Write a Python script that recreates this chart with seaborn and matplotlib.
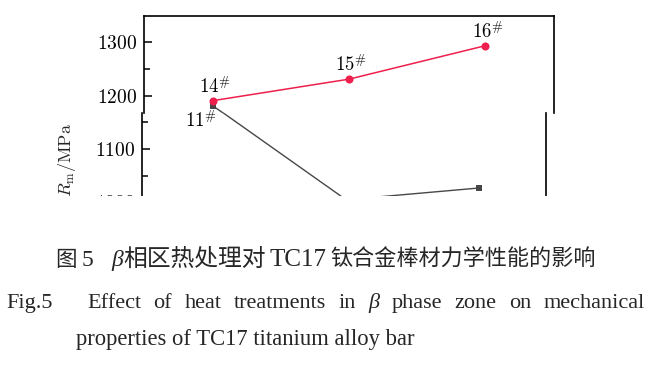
import numpy as np
import pandas as pd
import matplotlib
matplotlib.use("Agg")
import matplotlib.pyplot as plt
from matplotlib.ticker import MultipleLocator, AutoMinorLocator, FuncFormatter
from matplotlib.patches import Rectangle
import seaborn as sns

# ---------------- data ----------------
red_labels = ["14", "15", "16"]
red_values = [1190.6, 1231.0, 1293.8]
black_labels = ["11", "12", "13"]
black_values = [1181.3, 1005.0, 1027.0]

caption_cn_fig = ["图", "5"]
caption_cn_parts = ["相区热处理对", "TC17", "钛合金棒材力学性能的影响"]
caption_en_head = "Fig.5"
caption_en_words = ["Effect", "of", "heat", "treatments", "in", "β",
                    "phase", "zone", "on", "mechanical"]
caption_en_line2 = "properties of TC17 titanium alloy bar"
ylabel = r"$R_{\mathrm{m}}/\mathrm{MPa}$"

# ---------------- style ----------------
sns.set_theme(style="white")
plt.rcParams["font.family"] = ["Liberation Serif", "Noto Sans CJK SC", "DejaVu Sans"]
plt.rcParams["mathtext.fontset"] = "cm"

W, H = 657, 365
fig = plt.figure(figsize=(W / 100, H / 100), dpi=100)
renderer = fig.canvas.get_renderer()

def fx(px):
    return px / W

def fy(py):
    return 1 - py / H

red_color = "#ee1f4d"
black_color = "#474747"

xs = np.arange(1, len(red_values) + 1)
df_red = pd.DataFrame({"x": xs, "y": red_values, "lab": red_labels})
df_black = pd.DataFrame({"x": xs, "y": black_values, "lab": black_labels})

# pixel geometry
y_split = 113.2
ax_u = fig.add_axes([fx(144.3), fy(y_split), fx(553.7) - fx(144.3), fy(15.7) - fy(y_split)])
ax_l = fig.add_axes([fx(142.3), fy(215), fx(546.3) - fx(142.3), fy(y_split) - fy(215)])

px_per_unit = 53.35 / 100.0  # pixels per MPa
def val_at(py):
    return 1200 - (py - 95.7) / px_per_unit

ax_u.set_ylim(val_at(y_split), val_at(15.7))
ax_l.set_ylim(val_at(215), val_at(y_split))
ax_u.set_xlim(0.5, 3.5)
ax_l.set_xlim(0.468, 3.506)

for ax in (ax_u, ax_l):
    sns.lineplot(data=df_black, x="x", y="y", ax=ax, color=black_color,
                 marker="s", markersize=4.6, markeredgewidth=0, linewidth=1.0,
                 sort=False, zorder=2)
    sns.lineplot(data=df_red, x="x", y="y", ax=ax, color=red_color,
                 marker="o", markersize=5.8, markeredgewidth=0, linewidth=1.1,
                 sort=False, zorder=3)
    ax.set_xlabel("")
    ax.set_ylabel("")
    ax.set_xticks([])
    ax.yaxis.set_major_locator(MultipleLocator(100))
    ax.yaxis.set_minor_locator(AutoMinorLocator(2))
    ax.yaxis.set_major_formatter(FuncFormatter(lambda v, p: f"${v:.0f}$"))
    ax.tick_params(axis="y", which="major", direction="in", length=6, width=1.1,
                   pad=5.5, labelsize=14, left=True, right=False, colors="black")
    ax.tick_params(axis="y", which="minor", direction="in", length=4, width=1.1,
                   left=True, right=False, colors="black")
    for s in ax.spines.values():
        s.set_color("black")
        s.set_linewidth(1.2)
    ax.patch.set_alpha(0)

ax_u.spines["bottom"].set_visible(False)
ax_l.spines["top"].set_visible(False)
ax_l.spines["bottom"].set_visible(False)

# point labels
for x, y, lab in zip(df_red["x"], df_red["y"], df_red["lab"]):
    ax_u.annotate(rf"${lab}^{{\#}}$", (x, y), xytext=(2, 14.5), textcoords="offset pixels",
                  ha="center", va="center", fontsize=13.5, color="black")
for i, (x, y, lab) in enumerate(zip(df_black["x"], df_black["y"], df_black["lab"])):
    dy = -15.3 if i == 0 else -24
    ax_l.annotate(rf"${lab}^{{\#}}$", (x, y), xytext=(-12, dy), textcoords="offset pixels",
                  ha="center", va="center", fontsize=13.5, color="black",
                  annotation_clip=False)

fig.text(fx(66.5), fy(160), ylabel, rotation=90, ha="center", va="center", fontsize=13)

# white mask that cuts the chart off at the bottom
fig.add_artist(Rectangle((0, fy(236)), 1, fy(196.3) - fy(236), transform=fig.transFigure,
                         facecolor="white", edgecolor="none", zorder=20))

# ---------------- caption ----------------
def fitted_text(x0, x1, base, s, size, **kw):
    """Left-aligned text whose width is fitted to span x0..x1 pixels."""
    t = fig.text(fx(x0), fy(base), s, ha="left", va="baseline", fontsize=size, zorder=30, **kw)
    w = t.get_window_extent(renderer).width
    t.set_fontsize(size * (x1 - x0) / w)
    return t

cn_fam = ["Liberation Serif", "Noto Sans CJK SC"]
cn_size = 17
cn_base = 266
fig.text(fx(55), fy(cn_base), caption_cn_fig[0], ha="left", va="baseline", fontsize=15.5,
         family=cn_fam, zorder=30)
fig.text(fx(81.5), fy(cn_base), caption_cn_fig[1], ha="left", va="baseline", fontsize=cn_size,
         family="Liberation Serif", zorder=30)
fig.text(fx(111.5), fy(cn_base), "β", ha="left", va="baseline", fontsize=cn_size,
         family="Liberation Serif", style="italic", zorder=30)
fitted_text(123, 266, cn_base, caption_cn_parts[0], cn_size, family=cn_fam)
fitted_text(270, 327, cn_base, caption_cn_parts[1], cn_size, family="Liberation Serif")
fitted_text(330, 595, cn_base, caption_cn_parts[2], cn_size, family=cn_fam)

# justified English line
en_size = 16
en_base = 307.7
fig.text(fx(6.5), fy(en_base), caption_en_head, ha="left", va="baseline", fontsize=en_size,
         family="Liberation Serif", zorder=30)
word_artists = []
for w in caption_en_words:
    t = fig.text(0, fy(en_base), w, ha="left", va="baseline", fontsize=en_size,
                 family="Liberation Serif", style="italic" if w == "β" else "normal", zorder=30)
    word_artists.append(t)
widths = [t.get_window_extent(renderer).width for t in word_artists]
x_start, x_end = 87.0, 645.0
gap = (x_end - x_start - sum(widths)) / (len(widths) - 1)
cur = x_start
for t, wdt in zip(word_artists, widths):
    t.set_x(fx(cur))
    cur += wdt + gap

fitted_text(76.5, 416, 344.5, caption_en_line2, 16, family="Liberation Serif")

fig.savefig("out.png", dpi=100, facecolor="white")
